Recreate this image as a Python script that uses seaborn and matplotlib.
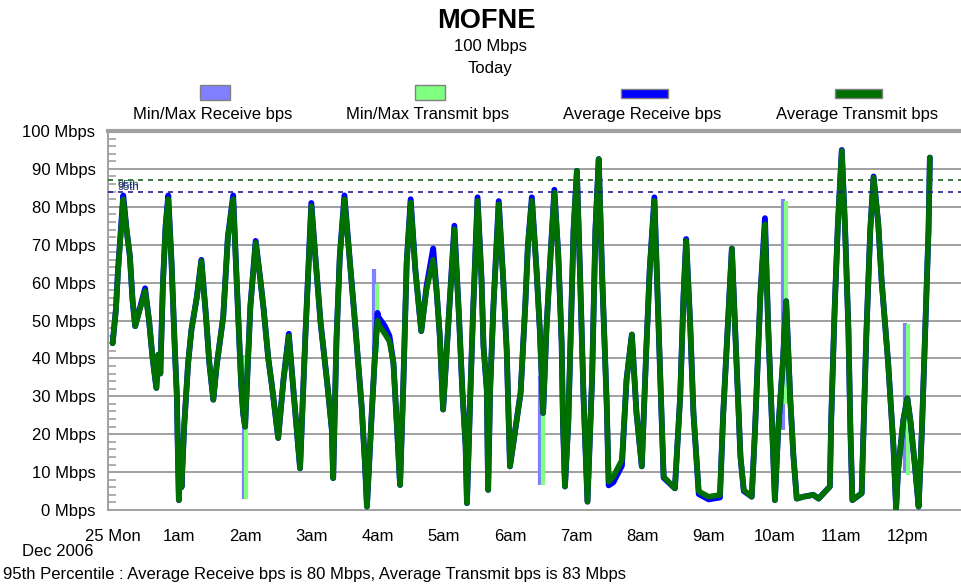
import numpy as np
import pandas as pd
import matplotlib
matplotlib.use('Agg')
import matplotlib.pyplot as plt
from matplotlib.patches import Rectangle
import seaborn as sns

# hours since midnight, one hour per row
hours = [0.0, 0.05, 0.08, 0.16, 0.21, 0.26, 0.3, 0.34, 0.49, 0.55, 0.6, 0.66, 0.69, 0.72, 0.76, 0.8, 0.84, 0.89, 0.94, 0.97, 0.98,
         1.0, 1.02, 1.04, 1.08, 1.14, 1.19, 1.27, 1.34, 1.41, 1.46, 1.52, 1.57, 1.67, 1.74, 1.82, 1.87, 1.94, 1.97,
         2.0, 2.08, 2.16, 2.23, 2.28, 2.35, 2.40, 2.50, 2.58, 2.66, 2.75, 2.83, 2.91, 2.96,
         3.0, 3.06, 3.14, 3.24, 3.31, 3.33, 3.38, 3.43, 3.50, 3.58, 3.66, 3.76, 3.81, 3.84, 3.91, 3.96,
         4.0, 4.01, 4.11, 4.18, 4.24, 4.29, 4.34, 4.39, 4.44, 4.50, 4.57, 4.66, 4.74, 4.84, 4.89, 4.94, 4.99,
         5.07, 5.16, 5.23, 5.28, 5.33, 5.35, 5.40, 5.44, 5.51, 5.57, 5.60, 5.65, 5.67, 5.70, 5.75, 5.83, 5.90, 5.95,
         6.0, 6.08, 6.16, 6.23, 6.27, 6.33, 6.40, 6.45, 6.50, 6.55, 6.60, 6.67, 6.73, 6.78, 6.80, 6.83, 6.88, 6.96,
         7.01, 7.06, 7.11, 7.17, 7.24, 7.29, 7.34, 7.39, 7.46, 7.49, 7.56, 7.69, 7.76, 7.84, 7.91, 7.99,
         8.06, 8.11, 8.18, 8.22, 8.27, 8.32, 8.49, 8.57, 8.62, 8.66, 8.72, 8.77, 8.85,
         9.0, 9.17, 9.22, 9.30, 9.35, 9.40, 9.48, 9.53, 9.65, 9.70, 9.78, 9.85, 9.90, 9.95,
         10.0, 10.05, 10.12, 10.17, 10.23, 10.28, 10.33, 10.43, 10.58, 10.66, 10.83, 10.85, 10.90, 10.95,
         11.01, 11.06, 11.11, 11.14, 11.17, 11.31, 11.38, 11.44, 11.49, 11.56, 11.61, 11.71, 11.79, 11.83, 11.86, 11.94,
         12.0, 12.05, 12.12, 12.17, 12.22, 12.27, 12.32, 12.34]

# Average Transmit bps (Mbps)
xmit = [44, 53, 62.6, 82, 74, 67, 55.5, 48.5, 57.8, 50, 40.6, 32.2, 41, 36, 60, 75, 82, 65, 42, 30, 20,
        2.6, 16, 6, 22, 38.8, 47.6, 56, 65.7, 51, 38.8, 29.1, 38, 51, 72, 82, 61.7, 33.5, 25.6,
        22, 53.8, 70.5, 60.8, 53, 40, 33.5, 19, 34.4, 45.9, 27.3, 11, 45.9, 65.3,
        80.2, 67, 49.4, 33.5, 21.2, 8.4, 45, 67, 82, 66, 49.4, 27.3, 12.3, 0.9, 24.7, 40.6,
        50, 49, 46.5, 44.5, 38.8, 23, 6.6, 33.5, 65.3, 81.1, 63.5, 47.2, 58.2, 66, 58.2, 45.9, 26.5,
        49.4, 74.1, 51, 31.7, 16.8, 1.8, 30, 51, 81.6, 60.8, 43.2, 31.7, 5.3, 31.7, 53.8, 80.7, 60, 42.3,
        11.5, 21.2, 30.9, 53.8, 69.7, 81.6, 63.5, 47.6, 25.6, 47.6, 63.5, 83.8, 67, 44.1, 23, 6.2, 23, 74,
        89.5, 60.8, 30, 2.2, 35, 74, 92.6, 62.6, 28.2, 7.5, 8.8, 13.2, 34.4, 46.3, 25.6, 11.5,
        43.2, 63.5, 81.6, 60.8, 34.4, 8.8, 5.7, 30, 56.4, 71, 49.4, 25.6, 4.9,
        3.5, 4.0, 25.6, 52, 69, 47.6, 14.1, 5.3, 3.5, 21.2, 56.4, 75.4, 47.6, 25.6,
        2.6, 21.2, 38.8, 55.1, 30, 14.1, 3, 3.5, 4, 3, 6.2, 23.8, 52, 75,
        94.8, 74, 47.6, 21.2, 2.6, 4.4, 45.9, 74, 87.7, 75.7, 60.8, 38.8, 16.8, 0.4, 10.6, 23.8,
        29.5, 23, 10.6, 0.9, 21.2, 47.6, 74, 93]

# Average Receive bps (Mbps)
recv = [44, 53, 63, 83, 74, 67, 55.5, 48.5, 58.5, 50, 40.6, 32.2, 41, 36, 60, 75, 83, 65, 42, 30, 20,
        2.6, 16, 6, 22, 38.8, 47.6, 56, 66, 51, 38.8, 29.1, 38, 51, 72, 83, 61.7, 33.5, 25.6,
        22, 53.8, 71, 60.8, 53, 40, 33.5, 19, 34.4, 46.5, 27.3, 11, 45.9, 65.3,
        81, 67, 49.4, 33.5, 21.2, 8.4, 45, 67, 83, 66, 49.4, 27.3, 12.3, 0.9, 24.7, 40.6,
        52, 51, 48.5, 45.9, 38.8, 23, 6.6, 33.5, 65.3, 82, 63.5, 47.2, 59, 69, 58.2, 45.9, 26.5,
        49.4, 75, 51, 31.7, 16.8, 1.8, 30, 51, 82.5, 60.8, 43.2, 31.7, 5.3, 31.7, 53.8, 81.5, 60, 42.3,
        11.5, 21.2, 30.9, 53.8, 69.7, 82.5, 63.5, 47.6, 25.6, 47.6, 63.5, 84.5, 67, 44.1, 23, 6.2, 23, 74,
        89.5, 60.8, 30, 2.2, 35, 74, 92.6, 62.6, 28.2, 6.5, 7.3, 11.7, 34.4, 46.3, 25.6, 11.5,
        43.2, 63.5, 82.5, 60.8, 34.4, 8.5, 5.7, 30, 56.4, 71.5, 49.4, 25.6, 4.2,
        2.8, 3.3, 25.6, 52, 69, 47.6, 14.1, 5.0, 3.5, 21.2, 56.4, 77, 47.6, 25.6,
        2.6, 21.2, 38.8, 55.1, 30, 14.1, 3, 3.5, 4, 3, 6.2, 23.8, 52, 75,
        95, 74, 47.6, 21.2, 2.6, 4.4, 45.9, 74, 88, 75.7, 60.8, 38.8, 16.8, 0.4, 10.6, 23.8,
        29.5, 23, 10.6, 0.9, 21.2, 47.6, 74, 93]

# Min/Max spikes that stick out from the averages
mm_recv_t = [1.98, 3.94, 6.45, 10.12, 11.97]
mm_recv_lo = [3, 42.3, 6.6, 21, 9.7]
mm_recv_hi = [41, 63.5, 35.3, 82, 49.4]
mm_xmit_t = [2.02, 3.99, 6.50, 10.17, 12.01]
mm_xmit_lo = [3, 41.4, 6.6, 28, 9.3]
mm_xmit_hi = [41, 59.5, 45.9, 81.6, 49]

pct_recv = 83.8
pct_xmit = 87.1

tick_labels = ['25 Mon', '1am', '2am', '3am', '4am', '5am', '6am', '7am', '8am', '9am', '10am', '11am', '12pm']
legend_labels = ['Min/Max Receive bps', 'Min/Max Transmit bps', 'Average Receive bps', 'Average Transmit bps']

assert len(hours) == len(xmit) == len(recv)
df = pd.DataFrame({'hour': hours, 'xmit': xmit, 'recv': recv})

sns.set_style('white')
plt.rcParams['font.family'] = ['Liberation Sans', 'DejaVu Sans']
plt.rcParams['text.color'] = 'black'
plt.rcParams['xtick.labelcolor'] = 'black'
plt.rcParams['ytick.labelcolor'] = 'black'

W, H = 961, 586
fs = 12
fig = plt.figure(figsize=(W / 100, H / 100), dpi=100)
ax = fig.add_axes([108 / W, 1 - 510 / H, 1 - 108 / W, 379 / H])

grid_c = '#a0a0a0'
c_mm_recv = '#7f7fff'
c_mm_xmit = '#80ff80'
c_recv = '#0000ff'
c_xmit = '#007000'

for v in range(10, 100, 10):
    ax.axhline(v, color=grid_c, lw=1.4, zorder=1)

ax.vlines(mm_recv_t, mm_recv_lo, mm_recv_hi, color=c_mm_recv, lw=3, zorder=2)
ax.vlines(mm_xmit_t, mm_xmit_lo, mm_xmit_hi, color=c_mm_xmit, lw=3, zorder=2)

sns.lineplot(data=df, x='hour', y='recv', color=c_recv, lw=4.2, sort=False, estimator=None, ax=ax, zorder=3)
sns.lineplot(data=df, x='hour', y='xmit', color=c_xmit, lw=4.0, sort=False, estimator=None, ax=ax, zorder=4)

ax.axhline(pct_xmit, color='#1f5f1f', lw=1.2, ls=(0, (3, 3)), zorder=5)
ax.axhline(pct_recv, color='#20208f', lw=1.2, ls=(0, (3, 3)), zorder=5)
ax.text(0.08, pct_xmit, '95th', color='#1f5f3f', fontsize=8, va='top', ha='left', zorder=6)
ax.text(0.08, pct_recv, '95th', color='#20207f', fontsize=8, va='bottom', ha='left', zorder=6)

ax.set_xlim(-0.07, 12.81)
ax.set_ylim(0, 100)
ax.set_xticks(range(13))
ax.set_xticklabels(tick_labels)
ax.set_yticks(range(0, 101, 10))
ax.set_yticklabels([f'{v} Mbps' for v in range(0, 101, 10)])
ax.set_yticks(range(0, 101, 2), minor=True)
ax.set_xlabel('')
ax.set_ylabel('')

ax.tick_params(axis='x', direction='inout', length=20, width=1.2, color=grid_c, labelsize=fs, pad=4)
ax.tick_params(axis='y', which='major', direction='out', length=7, width=1.4, color=grid_c, labelsize=fs, pad=2)
ax.tick_params(axis='y', which='minor', direction='in', length=6, width=1.2, color=grid_c, left=True)

for side in ['left', 'bottom']:
    ax.spines[side].set_color(grid_c)
    ax.spines[side].set_linewidth(1.4)
ax.spines['top'].set_color(grid_c)
ax.spines['top'].set_linewidth(3)
ax.spines['right'].set_visible(False)

# header
fig.text(486 / W, 1 - 21 / H, 'MOFNE', fontsize=19.5, fontweight='bold', ha='center', va='center')
fig.text(490 / W, 1 - 47 / H, '100 Mbps', fontsize=fs, ha='center', va='center')
fig.text(490 / W, 1 - 68 / H, 'Today', fontsize=fs, ha='center', va='center')

# legend swatches drawn by hand, like the original
swatches = [(200, 85, 30, 15, c_mm_recv), (415, 85, 30, 15, c_mm_xmit),
            (621, 89, 47, 9, c_recv), (835, 89, 47, 9, c_xmit)]
label_x = [213, 428, 642, 857]
for (x0, y0, w, h, c), lx, lab in zip(swatches, label_x, legend_labels):
    fig.patches.append(Rectangle((x0 / W, 1 - (y0 + h) / H), w / W, h / H, transform=fig.transFigure,
                                 facecolor=c, edgecolor='#808080', lw=1))
    fig.text(lx / W, 1 - 115 / H, lab, fontsize=fs, ha='center', va='center')

fig.text(22 / W, 1 - 551 / H, 'Dec 2006', fontsize=fs, ha='left', va='center')
fig.text(3 / W, 1 - 574 / H, '95th Percentile : Average Receive bps is 80 Mbps, Average Transmit bps is 83 Mbps',
         fontsize=fs, ha='left', va='center')

fig.savefig('out.png', dpi=100)
